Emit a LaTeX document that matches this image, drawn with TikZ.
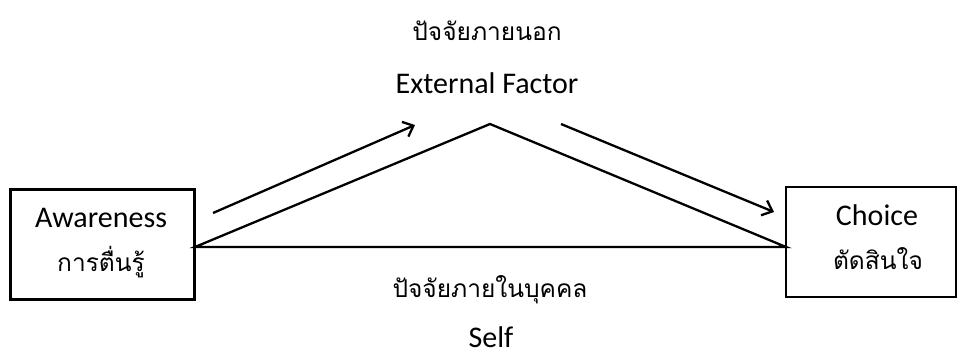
\documentclass[tikz,border=0pt]{standalone}
\usepackage{fontspec}
\setmainfont{Carlito}
\newfontfamily\thaifont[Script=Thai]{Loma}
\usepackage{tikz}
\usetikzlibrary{shapes, arrows, arrows.meta, calc, positioning}

\begin{document}
\begin{tikzpicture}[x=1pt, y=-1pt, >={Straight Barb[length=9pt, width=16pt]}]
	\tikzstyle{box} = [draw, line width=2.3pt, rectangle, minimum height=110pt, inner sep=0pt]
	\tikzstyle{eng} = [anchor=base, inner sep=0pt, font=\fontsize{30}{34}\selectfont]
	\tikzstyle{thai} = [anchor=base, inner sep=0pt, font=\thaifont\fontsize{24.5}{28}\selectfont]
	\tikzstyle{line} = [line width=2.3pt]

	\useasboundingbox (0,0) rectangle (957,351);

	% boxes
	\node[box, minimum width=184pt] (aware) at (102.5,244.5) {};
	\node[box, minimum width=170pt] (choice) at (871,242) {};
	\node[eng] (awareEn) at (101,227) {Awareness};
	\node[thai] (awareTh) at (101,271) {การตื่นรู้};
	\node[eng] (choiceEn) at (877,225) {Choice};
	\node[thai] (choiceTh) at (878,269) {ตัดสินใจ};

	% labels
	\node[thai] (extTh) at (487,40) {ปัจจัยภายนอก};
	\node[eng] (extEn) at (487,93) {External Factor};
	\node[thai] (selfTh) at (490,297) {ปัจจัยภายในบุคคล};
	\node[eng] (selfEn) at (491,347) {Self};

	% triangle
	\coordinate (apex) at (490,124);
	\coordinate (baseL) at (195,247);
	\coordinate (baseR) at (786,247);
	\draw[line, line join=miter] (baseL) -- (apex) -- (baseR) -- cycle;

	% arrows
	\coordinate (a1) at (213,213);
	\coordinate (a2) at (415,125);
	\coordinate (b1) at (561,124);
	\coordinate (b2) at (774,212);
	\draw[line, ->] (a1) -- (a2);
	\draw[line, ->] (b1) -- (b2);
\end{tikzpicture}
\end{document}
